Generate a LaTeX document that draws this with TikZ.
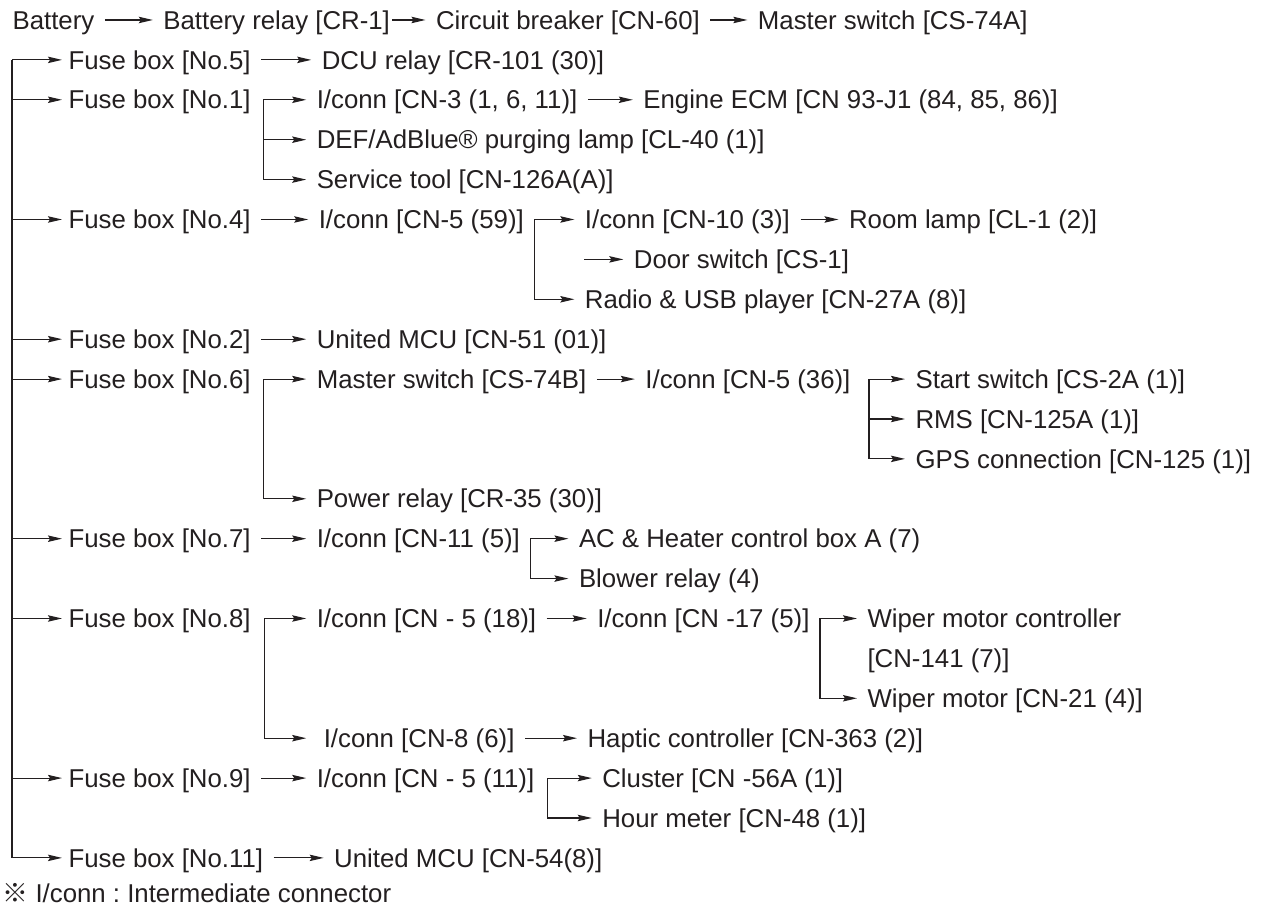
\documentclass[tikz,border=0pt]{standalone}
\usepackage{fontspec}
\setmainfont{Liberation Sans}
\newfontfamily\markfont{Noto Sans CJK JP}
\definecolor{pwInk}{HTML}{231F20}
\usetikzlibrary{positioning,arrows.meta}
\frenchspacing

\begin{document}
\begin{tikzpicture}[x=0.5pt,y=-19.95pt,pwInk,line width=0.55pt,
                    item/.style={anchor=west,inner xsep=5pt,inner ysep=0pt,
                                 text height=9.2pt,text depth=0pt,
                                 font=\fontsize{12.9pt}{15pt}\selectfont},
                    wire/.style={-{Stealth[length=7pt,width=3.2pt,inset=1pt]}},
                    node distance=22.5pt]
  \useasboundingbox (0,-0.501) rectangle (1266,22.43);

  % supply chain on top
  \node[item] (bat) at (2,0) {Battery};
  \node[item,right=24pt of bat] (brly) {Battery relay [CR-1]};
  \node[item,right=12.5pt of brly] (cbrk) {Circuit breaker [CN-60]};
  \node[item,right=18.5pt of cbrk] (msa) {Master switch [CS-74A]};
  \draw[wire] (bat) -- (brly);
  \draw[wire,shorten <=-4pt] (brly) -- (cbrk);
  \draw[wire] (cbrk) -- (msa);

  % fuse boxes hang off the left trunk
  \coordinate (trunk) at (12,1);
  \node[item] (f5) at (58,1) {Fuse box [No.5]};
  \node[item] (f1) at (58,2) {Fuse box [No.1]};
  \node[item] (f4) at (58,5) {Fuse box [No.4]};
  \node[item] (f2) at (58,8) {Fuse box [No.2]};
  \node[item] (f6) at (58,9) {Fuse box [No.6]};
  \node[item] (f7) at (58,13) {Fuse box [No.7]};
  \node[item] (f8) at (58,15) {Fuse box [No.8]};
  \node[item] (f9) at (58,19) {Fuse box [No.9]};
  \node[item] (f11) at (58,21) {Fuse box [No.11]};
  \foreach \f in {f5,f1,f4,f2,f6,f7,f8,f9,f11}
    \draw[wire,shorten >=-2pt] (trunk) |- (\f);

  % No.5
  \node[item,right=25pt of f5] (dcu) {DCU relay [CR-101 (30)]};
  \draw[wire] (f5) -- (dcu);

  % No.1
  \coordinate[right=1pt of f1.east] (f1b);
  \node[item,right=21.5pt of f1b] (cn3) {I/conn [CN-3 (1, 6, 11)]};
  \node[item] (def) at (cn3.west |- 0,3) {DEF/AdBlue® purging lamp [CL-40 (1)]};
  \node[item] (svc) at (cn3.west |- 0,4) {Service tool [CN-126A(A)]};
  \node[item,right=22.5pt of cn3] (ecm) {Engine ECM [CN 93-J1 (84, 85, 86)]};
  \draw[wire] (f1b) -- (cn3);
  \draw[wire] (f1b) |- (def);
  \draw[wire] (f1b) |- (svc);
  \draw[wire] (cn3) -- (ecm);

  % No.4
  \node[item,right=23.5pt of f4] (cn5a) {I/conn [CN-5 (59)]};
  \coordinate (cn5ab) at (cn5a.east);
  \node[item,right=20pt of cn5ab] (cn10) {I/conn [CN-10 (3)]};
  \node[item,right=19pt of cn10] (lamp) {Room lamp [CL-1 (2)]};
  \coordinate[xshift=5pt] (doorin) at (cn10.west |- 0,6);
  \node[item,right=19.5pt of doorin] (door) {Door switch [CS-1]};
  \node[item] (radio) at (cn10.west |- 0,7) {Radio \& USB player [CN-27A (8)]};
  \draw[wire] (f4) -- (cn5a);
  \draw[wire] (cn5ab) -- (cn10);
  \draw[wire] (cn5ab) |- (radio);
  \draw[wire] (cn10) -- (lamp);
  \draw[wire] (doorin) -- (door);

  % No.2
  \node[item,right=22.5pt of f2] (mcu51) {United MCU [CN-51 (01)]};
  \draw[wire] (f2) -- (mcu51);

  % No.6
  \coordinate[right=1pt of f6.east] (f6b);
  \node[item,right=21.5pt of f6b] (msb) {Master switch [CS-74B]};
  \node[item] (pwr) at (msb.west |- 0,12) {Power relay [CR-35 (30)]};
  \node[item,right=19pt of msb] (cn5b) {I/conn [CN-5 (36)]};
  \coordinate[right=4pt of cn5b.east] (cn5bb);
  \node[item,right=18pt of cn5bb] (start) {Start switch [CS-2A (1)]};
  \node[item] (rms) at (start.west |- 0,10) {RMS [CN-125A (1)]};
  \node[item] (gps) at (start.west |- 0,11) {GPS connection [CN-125 (1)]};
  \draw[wire] (f6b) -- (msb);
  \draw[wire] (f6b) |- (pwr);
  \draw[wire] (msb) -- (cn5b);
  \draw[wire] (cn5bb) -- (start);
  \draw[wire] (cn5bb) |- (rms);
  \draw[wire] (cn5bb) |- (gps);

  % No.7
  \node[item,right=22.5pt of f7] (cn11) {I/conn [CN-11 (5)]};
  \coordinate (cn11b) at (cn11.east);
  \node[item,right=19pt of cn11b] (ac) {AC \& Heater control box A (7)};
  \node[item] (blow) at (ac.west |- 0,14) {Blower relay (4)};
  \draw[wire] (f7) -- (cn11);
  \draw[wire] (cn11b) -- (ac);
  \draw[wire] (cn11b) |- (blow);

  % No.8
  \coordinate[right=1.5pt of f8.east] (f8b);
  \node[item,right=21pt of f8b] (cn5c) {I/conn [CN - 5 (18)]};
  \node[item,xshift=3.5pt] (cn8) at (cn5c.west |- 0,18) {I/conn [CN-8 (6)]};
  \node[item,right=20pt of cn5c] (cn17) {I/conn [CN -17 (5)]};
  \coordinate (cn17b) at (cn17.east);
  \node[item,right=18.5pt of cn17b] (wmc) {Wiper motor controller};
  \node[item] (wmcid) at (wmc.west |- 0,16) {[CN-141 (7)]};
  \node[item] (wm) at (wmc.west |- 0,17) {Wiper motor [CN-21 (4)]};
  \node[item,right=26pt of cn8] (hap) {Haptic controller [CN-363 (2)]};
  \draw[wire] (f8b) -- (cn5c);
  \draw[wire,shorten >=3.5pt] (f8b) |- (cn8);
  \draw[wire] (cn5c) -- (cn17);
  \draw[wire] (cn17b) -- (wmc);
  \draw[wire] (cn17b) |- (wm);
  \draw[wire] (cn8) -- (hap);

  % No.9
  \node[item,right=22.5pt of f9] (cn5d) {I/conn [CN - 5 (11)]};
  \coordinate[right=1.5pt of cn5d.east] (cn5db);
  \node[item,right=22pt of cn5db] (clu) {Cluster [CN -56A (1)]};
  \node[item] (hour) at (clu.west |- 0,20) {Hour meter [CN-48 (1)]};
  \draw[wire] (f9) -- (cn5d);
  \draw[wire] (cn5db) -- (clu);
  \draw[wire] (cn5db) |- (hour);

  % No.11
  \node[item,right=25pt of f11] (mcu54) {United MCU [CN-54(8)]};
  \draw[wire] (f11) -- (mcu54);

  \node[item] (note) at (-8,21.88) {{\markfont ※} I/conn : Intermediate connector};
\end{tikzpicture}
\end{document}
